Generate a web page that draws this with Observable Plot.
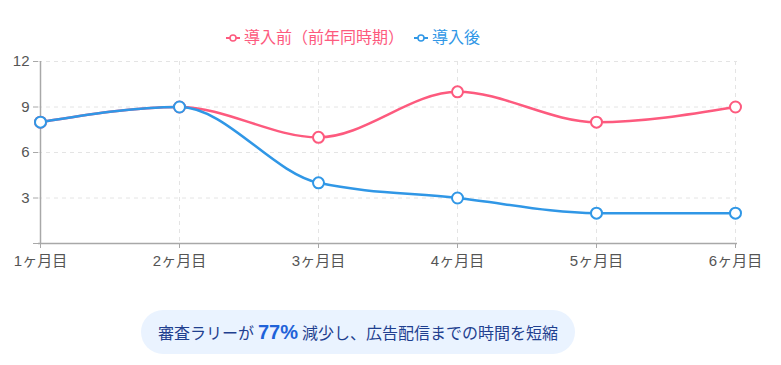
<!DOCTYPE html>
<html><head><meta charset="utf-8">
<script src="https://cdn.jsdelivr.net/npm/d3@7"></script>
<script src="https://cdn.jsdelivr.net/npm/@observablehq/plot@0.6"></script>
<style>
body{margin:0;background:#fff;font-family:"Liberation Sans","Noto Sans CJK JP",sans-serif;}
#wrap{position:relative;width:781px;height:365px;}
#chart{position:absolute;left:0;top:0;}
#legend{position:absolute;left:226px;top:28px;display:flex;gap:10px;font-size:16px;line-height:20px;}
#legend .item{display:flex;align-items:center;gap:4px;}
#caption{position:absolute;left:141px;top:310px;width:434px;height:44px;border-radius:22px;background:#eaf3ff;color:#1f3f8f;font-size:16px;display:flex;align-items:center;justify-content:center;white-space:nowrap;font-family:"Noto Sans CJK JP",sans-serif;}
#caption b{color:#1f62d9;font-size:20px;font-weight:700;margin:0 4px;font-family:"Liberation Sans","Noto Sans CJK JP",sans-serif;}
</style></head>
<body><div id="wrap"><div id="chart"></div><div id="legend"></div><div id="caption"></div></div>
<script>
const months = ["1ヶ月目","2ヶ月目","3ヶ月目","4ヶ月目","5ヶ月目","6ヶ月目"];
const beforeValues = [8, 9, 7, 10, 8, 9];
const afterValues = [8, 9, 4, 3, 2, 2];
const seriesNames = ["導入前（前年同時期）", "導入後"];
const seriesColors = ["#fd5a7e", "#3097e6"];
const yTicks = [0, 3, 6, 9, 12];
const captionParts = ["審査ラリーが", "77%", "減少し、広告配信までの時間を短縮"];

const rows = [];
months.forEach((m, i) => rows.push({month: m, value: beforeValues[i], series: seriesNames[0]}));
months.forEach((m, i) => rows.push({month: m, value: afterValues[i], series: seriesNames[1]}));

const plot = Plot.plot({
  width: 781, height: 280,
  marginTop: 61, marginBottom: 37, marginLeft: 38, marginRight: 44,
  style: {fontFamily: '"Liberation Sans","Noto Sans CJK JP",sans-serif', fontSize: "15px", color: "#555", background: "transparent"},
  x: {type: "point", domain: months, padding: 0},
  y: {domain: [0, 12]},
  color: {domain: seriesNames, range: seriesColors},
  marks: [
    Plot.gridY([3, 6, 9, 12], {stroke: "#e4e4e4", strokeOpacity: 1, strokeDasharray: "4,4"}),
    Plot.gridX(months.slice(1), {stroke: "#e4e4e4", strokeOpacity: 1, strokeDasharray: "4,4"}),
    Plot.axisY(yTicks, {tickSize: 5, tickPadding: 4, stroke: "#a8a8a8", fill: "#555", fontSize: 15, tickFormat: d => d === 0 ? "" : d, label: null}),
    Plot.axisX({tickSize: 5, tickPadding: 7, stroke: "#a8a8a8", fill: "#555", fontSize: 15, label: null}),
    Plot.ruleY([0], {stroke: "#a8a8a8", strokeWidth: 1.5}),
    Plot.ruleX([months[0]], {stroke: "#a8a8a8", strokeWidth: 1.5}),
    Plot.line(rows, {x: "month", y: "value", z: "series", stroke: "series", curve: "monotone-x", strokeWidth: 2.5}),
    Plot.dot(rows, {x: "month", y: "value", stroke: "series", fill: "white", r: 5.5, strokeWidth: 2})
  ]
});
document.getElementById("chart").appendChild(plot);

const legend = document.getElementById("legend");
seriesNames.forEach((name, i) => {
  const item = document.createElement("div");
  item.className = "item";
  item.style.color = seriesColors[i];
  item.innerHTML = `<svg width="14" height="10"><line x1="0" y1="5" x2="14" y2="5" stroke="${seriesColors[i]}" stroke-width="2"/><circle cx="7" cy="5" r="3" fill="white" stroke="${seriesColors[i]}" stroke-width="1.5"/></svg><span>${name}</span>`;
  legend.appendChild(item);
});

const cap = document.getElementById("caption");
cap.innerHTML = `<span>${captionParts[0]}</span><b>${captionParts[1]}</b><span>${captionParts[2]}</span>`;
</script></body></html>
